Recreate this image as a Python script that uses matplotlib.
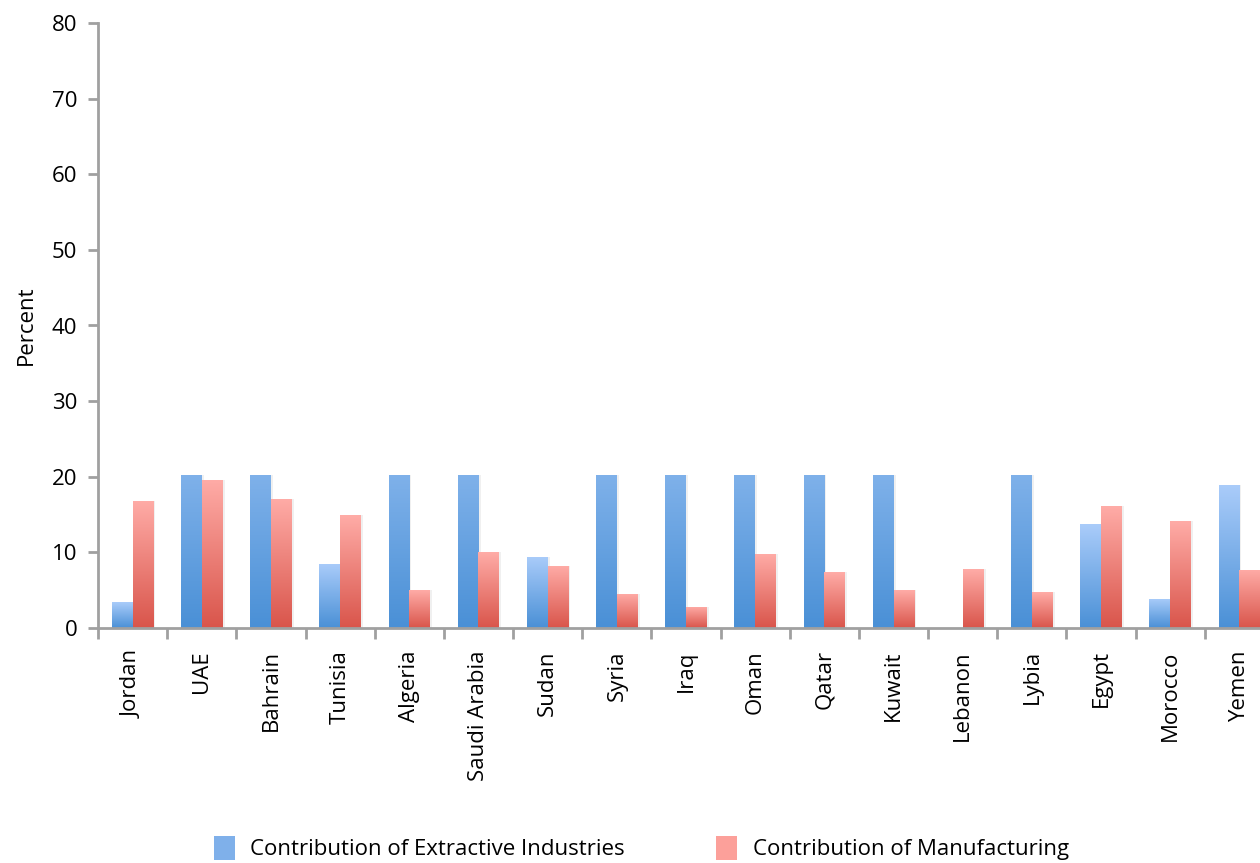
import numpy as np
import matplotlib.pyplot as plt
from matplotlib.colors import LinearSegmentedColormap
from matplotlib.patches import Patch

plt.rcParams["font.family"] = ["Open Sans", "DejaVu Sans"]

# data
countries = ["Jordan", "UAE", "Bahrain", "Tunisia", "Algeria", "Saudi Arabia",
             "Sudan", "Syria", "Iraq", "Oman", "Qatar", "Kuwait", "Lebanon",
             "Lybia", "Egypt", "Morocco", "Yemen"]
extractive = [3.4, 20.2, 20.2, 8.5, 20.2, 20.2, 9.4, 20.2, 20.2, 20.2, 20.2,
              20.2, 0.0, 20.2, 13.7, 3.9, 18.9]
manufacturing = [16.8, 19.6, 17.1, 14.9, 5.0, 10.0, 8.2, 4.5, 2.8, 9.8, 7.4,
                 5.0, 7.8, 4.7, 16.1, 14.1, 7.7]
yticks = [0, 10, 20, 30, 40, 50, 60, 70, 80]

blue_cmap = LinearSegmentedColormap.from_list("b", ["#4a90d6", "#aaccfa"])
red_cmap = LinearSegmentedColormap.from_list("r", ["#d9554b", "#ffaca7"])

fig = plt.figure(figsize=(12.6, 8.63), dpi=100)
ax = fig.add_axes([98 / 1260, 235 / 863, 1176 / 1260, 605 / 863])

x = np.arange(len(countries))
w = 0.3


def gradient_bars(xpos, vals, cmap, full_top):
    bars = ax.bar(xpos, vals, width=w, color="none", edgecolor="none", zorder=2)
    for b, v in zip(bars, vals):
        if v <= 0:
            continue
        # capped bars show only the lower part of the gradient
        top = full_top if v < 20 else 0.55
        grad = np.linspace(0, top, 256).reshape(-1, 1)
        x0 = b.get_x()
        # faint shadow
        ax.add_patch(plt.Rectangle((x0 + 0.03, 0), w, v, color="#000000",
                                   alpha=0.06, lw=0, zorder=1))
        im = ax.imshow(grad, cmap=cmap, vmin=0, vmax=1, origin="lower",
                       extent=[x0, x0 + w, 0, v], aspect="auto", zorder=2,
                       interpolation="bicubic")
        im.set_clip_path(b)


gradient_bars(x - w / 2, extractive, blue_cmap, 1.0)
gradient_bars(x + w / 2, manufacturing, red_cmap, 1.0)

ax.set_xlim(-0.5, len(countries) - 0.5)
ax.set_ylim(0, 80)

for s in ["top", "right"]:
    ax.spines[s].set_visible(False)
for s in ["left", "bottom"]:
    ax.spines[s].set_color("#a0a0a0")
    ax.spines[s].set_linewidth(2)
    ax.spines[s].set_zorder(3)

ax.set_yticks(yticks)
ax.tick_params(axis="y", length=7, width=2, color="#a0a0a0", labelsize=16, pad=8)
ax.set_xticks(x)
ax.set_xticklabels(countries, rotation=90, fontsize=16)
ax.set_xticks(np.arange(len(countries) + 1) - 0.5, minor=True)
ax.tick_params(axis="x", which="major", length=0, pad=16)
ax.tick_params(axis="x", which="minor", length=8, width=2, color="#a0a0a0")
ax.set_ylabel("Percent", fontsize=16, labelpad=11)

handles = [Patch(facecolor="#7fb0ea", label="Contribution of Extractive Industries"),
           Patch(facecolor="#fca09a", label="Contribution of Manufacturing")]
fig.legend(handles=handles, loc="center", bbox_to_anchor=(0.509, 0.017),
           ncol=2, frameon=False, fontsize=16, handlelength=0.95,
           handleheight=1.25, columnspacing=4.1, handletextpad=0.7)

plt.savefig("out.png", dpi=100)
